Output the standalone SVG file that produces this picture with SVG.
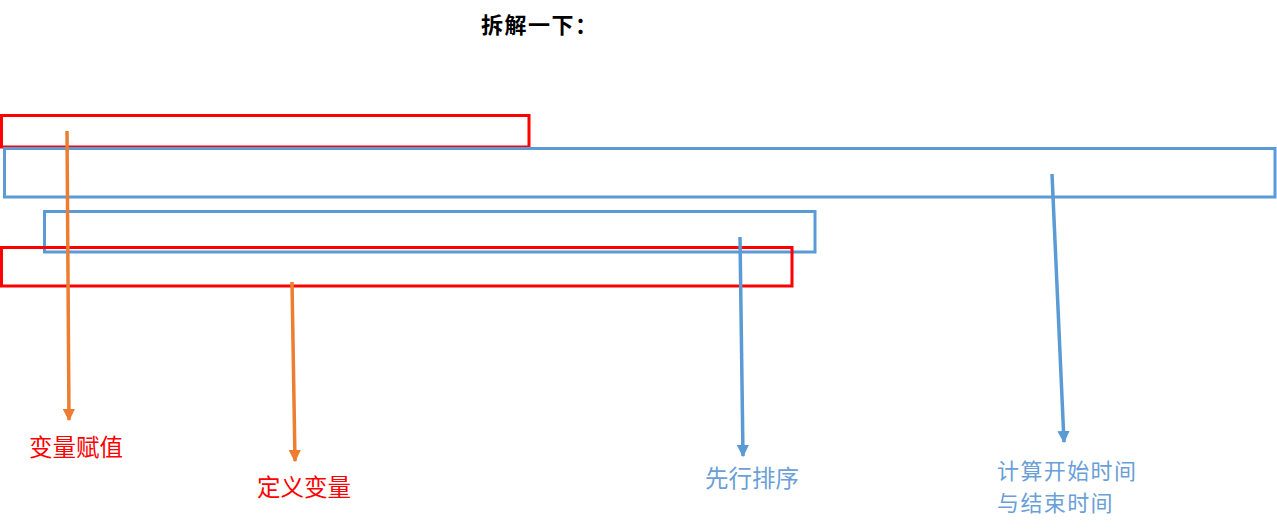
<svg xmlns="http://www.w3.org/2000/svg" width="1277" height="529" viewBox="0 0 1277 529">
<style>
.red{fill:none;stroke:#FF0000;stroke-width:3}
.blue{fill:none;stroke:#5B9BD5;stroke-width:3}
.ao{stroke:#ED7D31;stroke-width:3.5;fill:none}
.ab{stroke:#5B9BD5;stroke-width:3.5;fill:none}
.t{font-family:"Noto Sans CJK SC","Liberation Sans",sans-serif;font-size:23.5px}
.t2{font-family:"Noto Sans CJK SC","Liberation Sans",sans-serif;font-size:22px;letter-spacing:1.4px}
</style>
<defs>
<marker id="mo" viewBox="0 0 10 10" refX="9" refY="5" markerWidth="3.5" markerHeight="3.5" orient="auto" markerUnits="strokeWidth"><path d="M0,0 L10,5 L0,10 Z" fill="#ED7D31"/></marker>
<marker id="mb" viewBox="0 0 10 10" refX="9" refY="5" markerWidth="3.5" markerHeight="3.5" orient="auto" markerUnits="strokeWidth"><path d="M0,0 L10,5 L0,10 Z" fill="#5B9BD5"/></marker>
</defs>
<rect width="1277" height="529" fill="#FFFFFF"/>
<text x="481" y="33" font-family="'Noto Sans CJK SC','Liberation Serif',serif" font-size="22" letter-spacing="1.5" font-weight="bold" fill="#000000">拆解一下：</text>
<g id="box-assign"><rect class="red" x="1.5" y="115.5" width="527.5" height="31.5"/></g>
<g id="box-calc"><rect class="blue" x="4.5" y="148.5" width="1270.5" height="48.5"/></g>
<g id="box-sort"><rect class="blue" x="44.5" y="211.5" width="770.5" height="40.5"/></g>
<g id="box-define"><rect class="red" x="1.5" y="247.5" width="790.5" height="38.5"/></g>
<g id="connectors">
<line class="ao" x1="67" y1="131" x2="69" y2="420" marker-end="url(#mo)"/>
<line class="ao" x1="292" y1="282" x2="295" y2="461" marker-end="url(#mo)"/>
<line class="ab" x1="740" y1="237" x2="743" y2="456" marker-end="url(#mb)"/>
<line class="ab" x1="1052" y1="174" x2="1064" y2="442" marker-end="url(#mb)"/>
</g>
<g id="label-assign"><text class="t" x="29" y="456" fill="#FF0000">变量赋值</text></g>
<g id="label-define"><text class="t" x="257" y="496" fill="#FF0000">定义变量</text></g>
<g id="label-sort"><text class="t" x="705" y="487" fill="#6A9FD8">先行排序</text></g>
<g id="label-calc"><text class="t2" x="997" y="479" fill="#6A9FD8">计算开始时间</text><text class="t2" x="997" y="511" fill="#6A9FD8">与结束时间</text></g>
</svg>
